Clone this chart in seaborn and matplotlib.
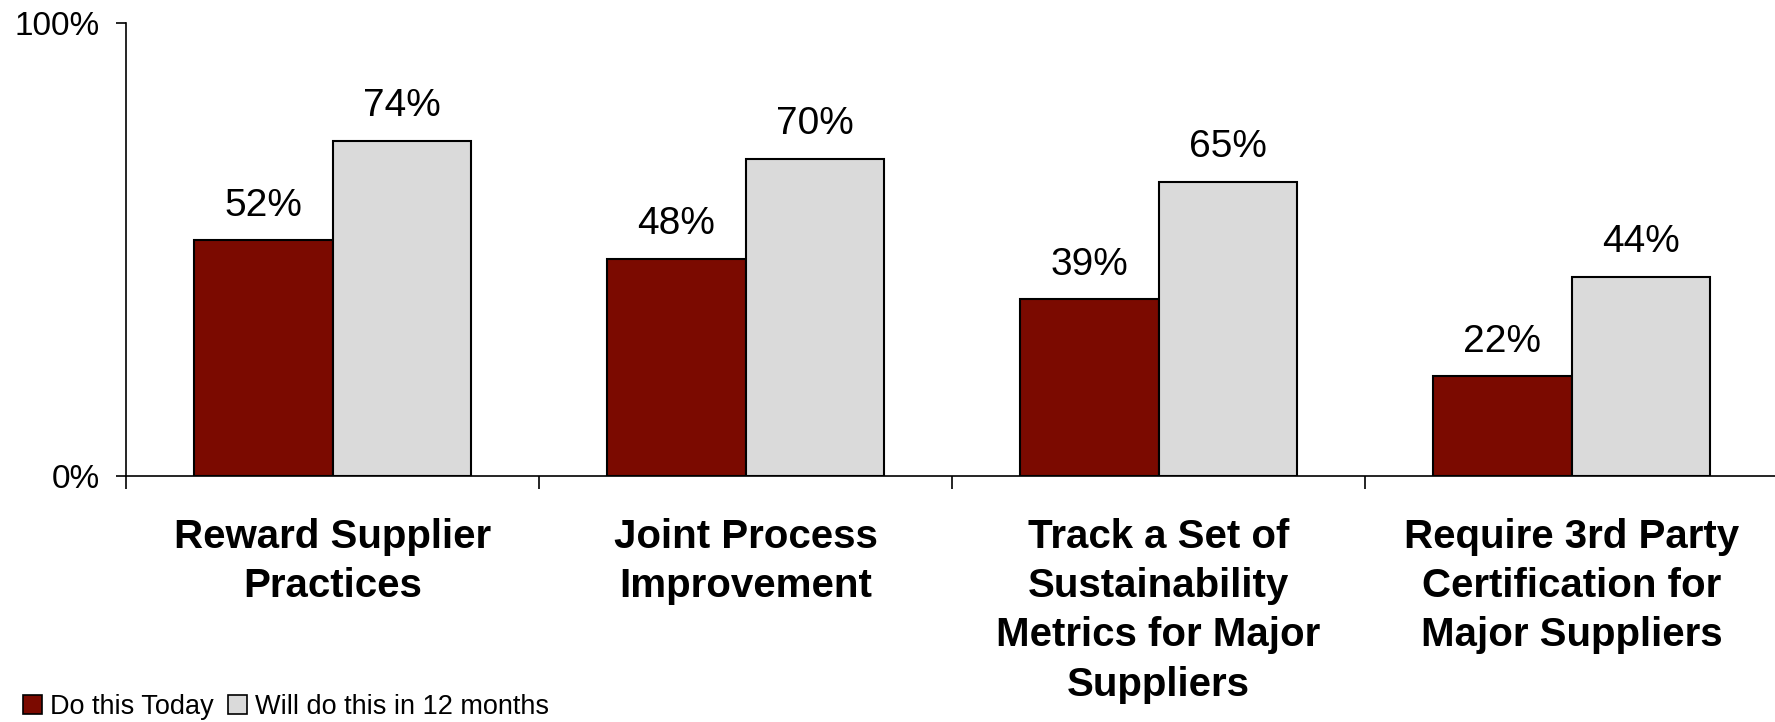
import matplotlib
matplotlib.use("Agg")
import matplotlib.pyplot as plt
import seaborn as sns
import pandas as pd
from matplotlib.patches import Patch
from matplotlib.ticker import FixedLocator

categories = [
    "Reward Supplier\nPractices",
    "Joint Process\nImprovement",
    "Track a Set of\nSustainability\nMetrics for Major\nSuppliers",
    "Require 3rd Party\nCertification for\nMajor Suppliers",
]
series_names = ["Do this Today", "Will do this in 12 months"]
today = [52, 48, 39, 22]
in12 = [74, 70, 65, 44]
colors = ["#7B0A00", "#DADADA"]

rows = []
for c, v in zip(categories, today):
    rows.append({"cat": c, "series": series_names[0], "val": v})
for c, v in zip(categories, in12):
    rows.append({"cat": c, "series": series_names[1], "val": v})
df = pd.DataFrame(rows)

sns.set_style("white")
plt.rcParams["font.family"] = ["Liberation Sans", "DejaVu Sans"]
plt.rcParams["text.color"] = "black"
plt.rcParams["xtick.color"] = "black"
plt.rcParams["ytick.color"] = "black"
plt.rcParams["axes.labelcolor"] = "black"

fig = plt.figure(figsize=(17.75, 7.22), dpi=100)
ax = fig.add_axes([126 / 1775, 246 / 722, (1778 - 126) / 1775, (476 - 23) / 722])

sns.barplot(data=df, x="cat", y="val", hue="series", palette=colors,
            width=0.67, edgecolor="black", linewidth=1.5, ax=ax,
            legend=False, saturation=1)

for cont in ax.containers:
    ax.bar_label(cont, fmt="%d%%", padding=12, fontsize=28, color="black")

ax.set_ylim(0, 100)
ax.set_xlim(-0.5, 3.5)
ax.set_yticks([0, 100])
ax.set_yticklabels(["0%", "100%"], fontsize=24, color="black")
ax.set_xlabel("")
ax.set_ylabel("")
ax.set_xticks(range(len(categories)))
ax.set_xticklabels(categories, fontsize=29, fontweight="bold", linespacing=1.38, color="black")
ax.xaxis.set_minor_locator(FixedLocator([-0.5, 0.5, 1.5, 2.5, 3.5]))
ax.tick_params(axis="x", which="major", bottom=True, length=0, pad=30)
ax.tick_params(axis="x", which="minor", bottom=True, length=9, width=1.2, color="black", direction="out")
ax.tick_params(axis="y", which="major", left=True, length=7, width=1.2, color="black", direction="out", pad=12)

for s in ["top", "right"]:
    ax.spines[s].set_visible(False)
for s in ["left", "bottom"]:
    ax.spines[s].set_color("black")
    ax.spines[s].set_linewidth(1.2)

handles = [Patch(facecolor=colors[0], edgecolor="black", linewidth=1.2),
           Patch(facecolor=colors[1], edgecolor="black", linewidth=1.2)]
fig.legend(handles, series_names, loc="lower left", bbox_to_anchor=(0.004, -0.02),
           ncol=2, frameon=False, fontsize=19.5, handlelength=0.7, handleheight=0.7,
           handletextpad=0.3, columnspacing=0.5, borderaxespad=0.2)

fig.savefig("out.png", dpi=100)
